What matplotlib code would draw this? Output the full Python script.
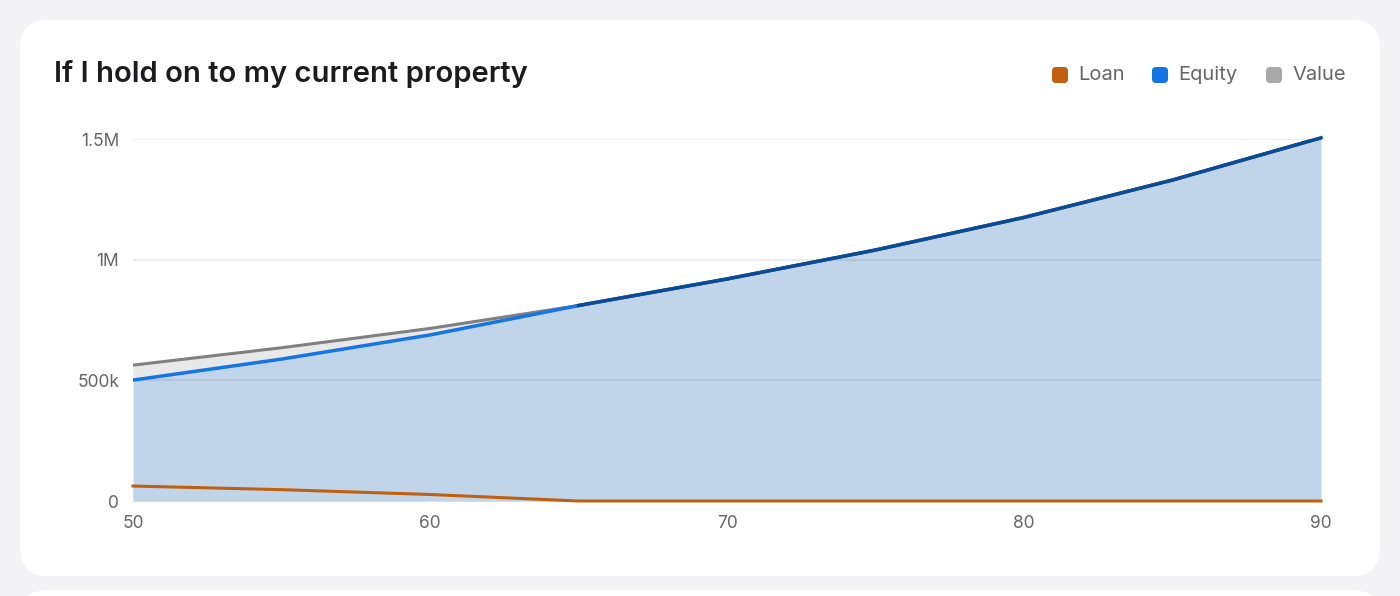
import matplotlib
matplotlib.use("Agg")
import matplotlib.pyplot as plt
from matplotlib.patches import FancyBboxPatch
import numpy as np

ages = [50, 55, 60, 65, 70, 75, 80, 85, 90]
value = [563000, 635000, 715000, 810000, 920000, 1040000, 1175000, 1330000, 1505000]
loan = [62000, 47000, 27000, 0, 0, 0, 0, 0, 0]
equity = [v - l for v, l in zip(value, loan)]
yticks = [0, 500000, 1000000, 1500000]
ylabels = ["0", "500k", "1M", "1.5M"]
xticks = [50, 60, 70, 80, 90]

W, H = 1400, 596
fig = plt.figure(figsize=(W/100, H/100), dpi=100)
fig.patch.set_facecolor("#f4f4f6")
bg = fig.add_axes([0, 0, 1, 1]); bg.set_xlim(0, W); bg.set_ylim(H, 0); bg.axis("off")
bg.add_patch(FancyBboxPatch((20, 20), 1360, 556, boxstyle="round,pad=0,rounding_size=28",
                            fc="white", ec="none"))
bg.add_patch(FancyBboxPatch((20, 590), 1360, 60, boxstyle="round,pad=0,rounding_size=28",
                            fc="white", ec="none"))
bg.text(54, 74, "If I hold on to my current property", fontsize=21, fontweight="semibold",
        color="#1c1c1e", va="center", family="Inter")
for x, lab, c in [(1060, "Loan", "#c0600f"), (1160, "Equity", "#1574e6"), (1274, "Value", "#a8a8a8")]:
    bg.add_patch(FancyBboxPatch((x-8, 67), 16, 16, boxstyle="round,pad=0,rounding_size=4", fc=c, ec="none"))
    bg.text(x+18, 75, lab, fontsize=14.5, color="#666", va="center", family="Inter")

ax = fig.add_axes([133/W, 1-501/H, (1321-133)/W, (501-139)/H])
ax.set_xlim(50, 90); ax.set_ylim(0, 1500000)
a = np.array(ages); v = np.array(value); e = np.array(equity); l = np.array(loan)
ax.fill_between(a, e, v, color="#e8e8e8", lw=0, zorder=1)
ax.fill_between(a, 0, e, color="#c0d5ea", lw=0, zorder=1)
ax.fill_between(a, 0, l, color="#c0d5ea", lw=0, zorder=1)
for yt in yticks[1:]:
    ax.axhline(yt, color="black", alpha=0.07, lw=1.5, zorder=2)
ax.plot(a, v, color="#808080", lw=2.2, zorder=3)
ax.plot(a, e, color="#1574e6", lw=2.5, zorder=4)
m = l == 0
idx = np.where(m)[0]
ax.plot(a[idx[0]:], e[idx[0]:], color="#0d4a8f", lw=2.5, zorder=5, clip_on=False)
ax.plot(a, l, color="#c0600f", lw=2.2, zorder=5, clip_on=False)
ax.set_yticks(yticks); ax.set_yticklabels(ylabels)
ax.set_xticks(xticks)
for s in ax.spines.values(): s.set_visible(False)
ax.tick_params(length=0, labelsize=12.5, colors="#666", pad=10)
for t in ax.get_yticklabels(): t.set_family("Inter")
for t in ax.get_xticklabels(): t.set_family("Inter")
ax.patch.set_alpha(0)
fig.savefig("out.png", dpi=100, facecolor=fig.get_facecolor())
